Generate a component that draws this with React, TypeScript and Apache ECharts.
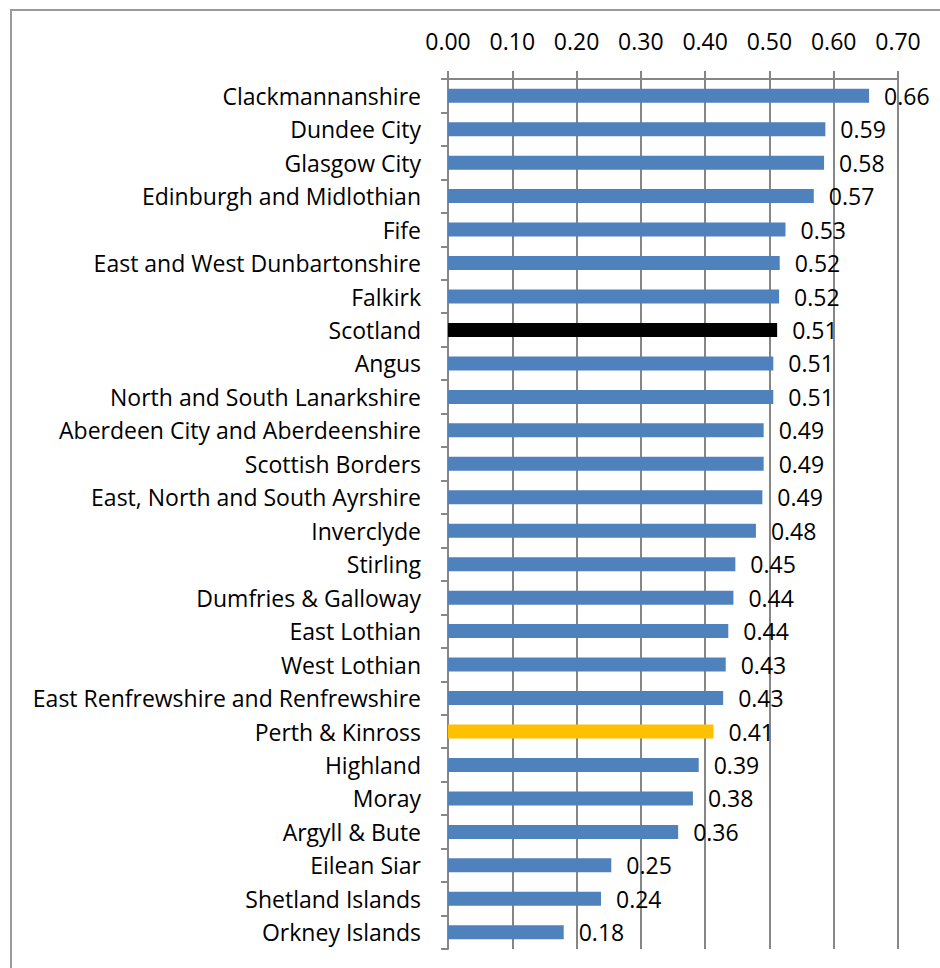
import React, { useEffect, useRef } from "react";
import * as echarts from "echarts";

const categories = [
  "Clackmannanshire",
  "Dundee City",
  "Glasgow City",
  "Edinburgh and Midlothian",
  "Fife",
  "East and West Dunbartonshire",
  "Falkirk",
  "Scotland",
  "Angus",
  "North and South Lanarkshire",
  "Aberdeen City and Aberdeenshire",
  "Scottish Borders",
  "East, North and South Ayrshire",
  "Inverclyde",
  "Stirling",
  "Dumfries & Galloway",
  "East Lothian",
  "West Lothian",
  "East Renfrewshire and Renfrewshire",
  "Perth & Kinross",
  "Highland",
  "Moray",
  "Argyll & Bute",
  "Eilean Siar",
  "Shetland Islands",
  "Orkney Islands",
];

const values = [
  0.655, 0.587, 0.585, 0.569, 0.525, 0.516, 0.515, 0.512, 0.506, 0.506,
  0.491, 0.491, 0.489, 0.479, 0.447, 0.444, 0.436, 0.432, 0.428, 0.413,
  0.39, 0.381, 0.358, 0.254, 0.238, 0.18,
];

const xTicks = [0, 0.1, 0.2, 0.3, 0.4, 0.5, 0.6, 0.7];

const baseColor = "#4F81BD";
const highlightColors: Record<string, string> = {
  Scotland: "#000000",
  "Perth & Kinross": "#FFC000",
};

const FONT = "Open Sans";

export default function App() {
  const ref = useRef<HTMLDivElement>(null);

  useEffect(() => {
    if (!ref.current) return;
    const chart = echarts.init(ref.current, null, { renderer: "svg" });
    const data = values.map((v, i) => ({
      value: v,
      itemStyle: { color: highlightColors[categories[i]] || baseColor },
    }));
    chart.setOption({
      animation: false,
      backgroundColor: "#ffffff",
      graphic: [
        {
          type: "rect",
          shape: { x: 11, y: 10, width: 960, height: 1000 },
          style: { fill: "none", stroke: "#9a9a9a", lineWidth: 2 },
          silent: true,
        },
      ],
      grid: { left: 448, right: 42, top: 79, bottom: 19 },
      xAxis: {
        type: "value",
        position: "top",
        min: xTicks[0],
        max: xTicks[xTicks.length - 1],
        interval: 0.1,
        axisLine: { show: true, lineStyle: { color: "#868686", width: 2 } },
        axisTick: { show: true, length: 8, lineStyle: { color: "#868686", width: 2 } },
        splitLine: { show: true, lineStyle: { color: "#868686", width: 2 } },
        axisLabel: {
          margin: 27,
          color: "#000",
          fontFamily: FONT,
          fontSize: 23,
          formatter: (v: number) => v.toFixed(2),
        },
      },
      yAxis: {
        type: "category",
        inverse: true,
        data: categories,
        axisLine: { show: true, lineStyle: { color: "#868686", width: 2 } },
        axisTick: { show: true, length: 7, lineStyle: { color: "#868686", width: 2 } },
        axisLabel: {
          margin: 27,
          color: "#000",
          fontFamily: FONT,
          fontSize: 23,
          padding: [0, 0, 3, 0],
        },
      },
      series: [
        {
          type: "bar",
          data,
          barWidth: 14,
          label: {
            show: true,
            position: "right",
            distance: 15,
            color: "#000",
            fontFamily: FONT,
            fontSize: 23,
            formatter: (p: any) => Number(p.value).toFixed(2),
          },
        },
      ],
    });
    return () => chart.dispose();
  }, []);

  return (
    <div
      ref={ref}
      style={{ position: "absolute", left: 0, top: 0, width: 940, height: 968 }}
    />
  );
}
